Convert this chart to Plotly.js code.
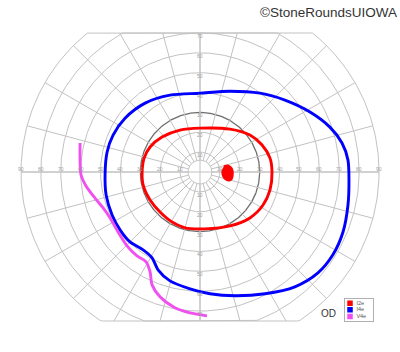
<!DOCTYPE html>
<html>
<head>
<meta charset="utf-8">
<script src="https://cdn.plot.ly/plotly-3.0.1.min.js"></script>
<style>html,body{margin:0;padding:0;background:#fff;}#chart{width:400px;height:352px;}</style>
</head>
<body>
<div id="chart"></div>
<script>
// ---- Data (visual-field degrees; x = horizontal, y = vertical) ----
const seriesNames = ['I2e', 'I4e', 'V4e'];
const seriesColors = ['#ff0000', '#0000ff', '#f050f0'];

const i2eX = [0, 15.1, 25.1, 31.2, 35.2, 36.2, 35.2, 31.7, 25.1, 15.1, 2.5, -7.5, -14.1, -20.1, -25.1, -28.6, -29.1, -28.1, -25.1, -19.1, -10.1];
const i2eY = [22.1, 21.6, 18.6, 13.6, 7.0, 0, -9.0, -16.6, -23.1, -27.1, -28.6, -28.1, -25.1, -20.1, -14.1, -6.5, 0, 7.0, 12.6, 17.6, 21.1];

const scotomaX = [12.0, 14.3, 16.1, 16.6, 16.0, 14.2, 12.3, 11.2, 11.2];
const scotomaY = [3.0, 3.3, 1.8, -1.0, -3.6, -4.4, -3.4, -1.2, 1.4];

const i4eX = [0, 15.1, 30.2, 42.7, 55.3, 65.3, 71.4, 74.4, 74.9, 74.4, 71.9, 66.8, 59.3, 47.7, 32.7, 17.6, 5.0, -5.0, -15.1, -21.1, -24.1, -28.6, -35.2, -40.2, -44.2, -47.2, -47.7, -46.7, -43.7, -37.7, -27.6, -15.1];
const i4eY = [39.7, 40.7, 39.7, 36.2, 30.2, 22.6, 14.6, 6.0, -4.0, -16.6, -30.2, -41.7, -50.8, -57.8, -61.3, -62.3, -61.3, -58.8, -54.8, -49.2, -43.2, -39.2, -35.2, -29.1, -21.6, -11.6, 0, 10.1, 18.6, 27.1, 34.7, 38.7];

const v4eX = [-60.3, -60.3, -59.8, -57.3, -52.8, -48.7, -45.2, -41.2, -36.7, -31.7, -27.1, -25.1, -24.1, -20.1, -12.6, -5.0, 3.5];
const v4eY = [14.6, 6.0, -1.5, -7.0, -13.1, -18.1, -23.1, -30.2, -37.2, -42.2, -45.2, -50.3, -56.8, -62.8, -68.3, -70.9, -72.4];

// ---- Chart frame (grid of the perimetry chart) ----
const gridRadii = [10, 20, 30, 40, 50, 60, 70, 80, 90];
const innerRadius = 6;
const outerRadius = 90;
const spokeStep = 15;
const fieldTop = 70;
const fieldBottom = -75;
const hTickLabels = [10, 20, 30, 40, 50, 60, 70, 80, 90];
const vTickLabels = [10, 20, 30, 40, 50, 60, 70];

const gridColor = '#c2c2c2';
const darkRingColor = '#6e6e6e';

function clampY(y) { return Math.max(fieldBottom, Math.min(fieldTop, y)); }

const traces = [];

// circles (clipped to the chart's flat top and bottom)
[innerRadius].concat(gridRadii).forEach(r => {
  const xs = [], ys = [];
  for (let a = 0; a <= 360; a += 1) {
    const t = a * Math.PI / 180;
    xs.push(r * Math.cos(t));
    ys.push(clampY(r * Math.sin(t)));
  }
  traces.push({type: 'scatter', mode: 'lines', x: xs, y: ys, hoverinfo: 'skip', showlegend: false,
    line: {color: r === 30 ? darkRingColor : gridColor, width: r === 30 ? 1.3 : 1}});
});

// spokes
{
  const xs = [], ys = [];
  for (let a = 0; a < 360; a += spokeStep) {
    const t = a * Math.PI / 180;
    const s = Math.sin(t), c = Math.cos(t);
    let rEnd = outerRadius;
    if (s > 1e-9) rEnd = Math.min(rEnd, fieldTop / s);
    if (s < -1e-9) rEnd = Math.min(rEnd, fieldBottom / s);
    xs.push(innerRadius * c, rEnd * c, null);
    ys.push(innerRadius * s, rEnd * s, null);
  }
  // axes through the centre
  xs.push(-outerRadius, outerRadius, null, 0, 0);
  ys.push(0, 0, null, fieldBottom, fieldTop);
  traces.push({type: 'scatter', mode: 'lines', x: xs, y: ys, hoverinfo: 'skip', showlegend: false,
    line: {color: gridColor, width: 1}});
}

// isopters
function closed(arr) { return arr.concat([arr[0]]); }
traces.push({type: 'scatter', mode: 'lines', name: 'I4e', x: closed(i4eX), y: closed(i4eY), showlegend: false,
  line: {color: seriesColors[1], width: 2.9, shape: 'spline', smoothing: 0.8}});
traces.push({type: 'scatter', mode: 'lines', name: 'V4e', x: v4eX, y: v4eY, showlegend: false,
  line: {color: seriesColors[2], width: 2.9, shape: 'spline', smoothing: 0.8}});
traces.push({type: 'scatter', mode: 'lines', name: 'I2e', x: closed(i2eX), y: closed(i2eY), showlegend: false,
  line: {color: seriesColors[0], width: 2.9, shape: 'spline', smoothing: 0.8}});
traces.push({type: 'scatter', mode: 'lines', name: 'I2e scotoma', x: scotomaX, y: scotomaY, fill: 'toself',
  fillcolor: seriesColors[0], showlegend: false,
  line: {color: seriesColors[0], width: 1.5, shape: 'spline'}});

// legend (small key box in the corner)
const legendRows = seriesNames.map((_, i) => seriesNames.length - 1 - i);
traces.push({type: 'scatter', mode: 'markers', xaxis: 'x2', yaxis: 'y2', x: seriesNames.map(() => 0), y: legendRows,
  marker: {symbol: 'square', size: 5.5, color: seriesColors, line: {width: 0}}, hoverinfo: 'skip', showlegend: false});
traces.push({type: 'scatter', mode: 'text', xaxis: 'x2', yaxis: 'y2', x: seriesNames.map(() => 1.35), y: legendRows,
  text: seriesNames, textposition: 'middle right', textfont: {family: 'Liberation Sans, Arial, sans-serif', size: 5.5, color: '#555'},
  hoverinfo: 'skip', showlegend: false});

// tick labels along the axes
const annotations = [];
const tickFont = {family: 'Liberation Sans, Arial, sans-serif', size: 5, color: '#a0a0a0'};
hTickLabels.forEach(v => {
  [-v, v].forEach(x => annotations.push({x: x, y: 0, xref: 'x', yref: 'y', text: String(v), showarrow: false, yshift: 3, font: tickFont}));
});
vTickLabels.forEach(v => {
  [-v, v].forEach(y => annotations.push({x: 0, y: y, xref: 'x', yref: 'y', text: String(v), showarrow: false, yshift: -3, font: tickFont}));
});
annotations.push({xref: 'paper', yref: 'paper', x: 0.8575, y: 0.005, xanchor: 'center', yanchor: 'bottom', text: 'OD', showarrow: false,
  font: {family: 'Liberation Sans, Arial, sans-serif', size: 10, color: '#333'}});
annotations.push({xref: 'paper', yref: 'paper', x: 1.053, y: 1.10, xanchor: 'right', yanchor: 'top', text: '©StoneRoundsUIOWA', showarrow: false,
  font: {family: 'Liberation Sans, Arial, sans-serif', size: 13.5, color: '#333'}});

const layout = {
  width: 400, height: 352,
  margin: {l: 20, r: 20, t: 32, b: 30, pad: 0},
  paper_bgcolor: '#fff', plot_bgcolor: 'rgba(0,0,0,0)',
  showlegend: false,
  xaxis: {range: [-90.5, 90.5], visible: false, fixedrange: true},
  yaxis: {range: [-75.5, 70.5], visible: false, fixedrange: true},
  xaxis2: {domain: [0.9036, 0.9797], anchor: 'y2', range: [-1, 4.8], showline: true, mirror: true, linecolor: '#b0b0b0', linewidth: 1,
    showgrid: false, zeroline: false, showticklabels: false, ticks: '', fixedrange: true},
  yaxis2: {domain: [0.0024, 0.0803], anchor: 'x2', range: [-0.72, 2.68], showline: true, mirror: true, linecolor: '#b0b0b0', linewidth: 1,
    showgrid: false, zeroline: false, showticklabels: false, ticks: '', fixedrange: true},
  annotations: annotations
};

Plotly.newPlot('chart', traces, layout, {staticPlot: true, displayModeBar: false});
</script>
</body>
</html>
